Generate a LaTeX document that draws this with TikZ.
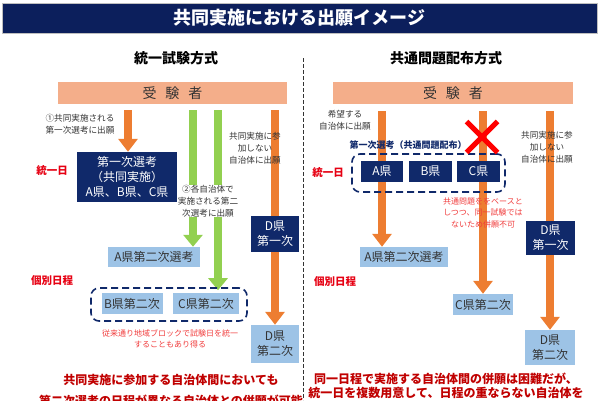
\documentclass[tikz,border=0pt]{standalone}
\usepackage{fontspec}
\setmainfont{Noto Sans CJK JP}
\usetikzlibrary{positioning, arrows.meta, shapes.misc, backgrounds}
\definecolor{jtitle}{HTML}{0C1F5C}
\definecolor{jnavy}{HTML}{10296A}
\definecolor{jsalmon}{HTML}{F4AE8A}
\definecolor{jorange}{HTML}{ED7D31}
\definecolor{jgreen}{HTML}{92D050}
\definecolor{jsky}{HTML}{9DC3E6}
\definecolor{jink}{HTML}{333333}
\definecolor{jred}{HTML}{E60012}
\definecolor{jnote}{HTML}{F03C3C}
\definecolor{jdeep}{HTML}{C00000}

\begin{document}
\begin{tikzpicture}[x=1pt, y=-1pt,
          nb/.style={fill=jnavy, text=white, inner sep=0pt, align=center, font=\fontsize{12}{15}\selectfont},
          lb/.style={fill=jsky, text=jink, inner sep=0pt, align=center, font=\fontsize{12}{15}\selectfont},
          bar/.style={fill=jsalmon, text=jink, inner sep=0pt, minimum height=22pt, font=\fontsize{14}{16}\selectfont},
          lbl/.style={text=jink, inner sep=0pt, align=center, font=\fontsize{8.6}{11.8}\selectfont},
          note/.style={text=jnote, inner sep=0pt, align=center, font=\fontsize{8}{11.5}\selectfont},
          day/.style={text=jred, inner sep=0pt, font=\bfseries\fontsize{10.5}{12}\selectfont},
          grp/.style={draw=jnavy, line width=1.6pt, dash pattern=on 7pt off 4pt, rounded corners=8pt, inner sep=0pt},
          oarr/.style={draw=jorange, line width=8pt, -{Triangle[length=13pt, width=19pt]}},
          garr/.style={draw=jgreen, line width=8pt, -{Triangle[length=12pt, width=19pt]}}]
        \clip (0,0) rectangle (599,400);
        % title
        \node[fill=jtitle, draw=black!25, minimum width=595pt, minimum height=30pt, inner sep=0pt, text=white,
              font=\bfseries\fontsize{18}{20}\selectfont] (title) at (299.5,18) {共同実施における出願イメージ};
        \draw[jink, dash pattern=on 4pt off 2pt] (303,58) coordinate (dtop) -- (303,400) coordinate (dbot);
        \node[font=\bfseries\fontsize{14}{16}\selectfont, text=black] (lhead) at (176,58) {統一試験方式};
        \node[font=\bfseries\fontsize{14}{16}\selectfont, text=black] (rhead) at (446,58) {共通問題配布方式};
        \node[bar, minimum width=229pt] (lcand) at (172.5,93) {受\hspace{9pt}験\hspace{9pt}者};
        \node[bar, minimum width=240pt] (rcand) at (453,93) {受\hspace{9pt}験\hspace{9pt}者};

        % left: unified exam
        \node[nb, minimum width=100pt, minimum height=50pt] (lfirst) at (127,177) {第一次選考\\（共同実施）\\A県、B県、C県};
        \node[lb, minimum width=92pt, minimum height=20pt] (la2) at (154,257) {A県第二次選考};
        \node[grp, minimum width=156pt, minimum height=33pt] (lgrp) at (169,304.5) {};
        \node[lb, minimum width=61pt, minimum height=21pt] (lb2) at (132,303.5) {B県第二次};
        \node[lb, minimum width=66pt, minimum height=21pt] (lc2) at (206,303.5) {C県第二次};
        \node[nb, minimum width=48pt, minimum height=36pt] (ld1) at (275,234) {D県\\第一次};
        \node[lb, minimum width=48pt, minimum height=38pt] (ld2) at (275,344) {D県\\第二次};
        \node[day] (lday1) at (52,171) {統一日};
        \node[day] (lday2) at (52,281) {個別日程};
        \node[lbl] (lt1) at (80,124) {①共同実施される\\第一次選考に出願};
        \node[lbl, fill=white] (lt2) at (208,201) {②各自治体で\\実施される第二\\次選考に出願};
        \node[lbl] (lt3) at (255,148.5) {共同実施に参\\加しない\\自治体に出願};
        \node[note] (lt4) at (170,339) {従来通り地域ブロックで試験日を統一\\することもあり得る};
        \coordinate (ls1) at (128,110);
        \coordinate (lg1) at (193,110);
        \coordinate (lg2) at (218,110);
        \coordinate (ls2) at (275,110);
        \begin{scope}[on background layer]
          \draw[oarr] (ls1) -- (ls1 |- lfirst.north);
          \draw[garr] (lg1) -- (lg1 |- la2.north);
          \draw[garr, shorten >=-3pt] (lg2) -- (lg2 |- lgrp.north);
          \draw[oarr] (ls2) -- (ld2.north);
        \end{scope}

        % right: shared questions
        \node[font=\bfseries\fontsize{9}{11}\selectfont, text=jnavy, inner sep=0pt] (rtag) at (408,145) {第一次選考（共通問題配布）};
        \node[grp, minimum width=153pt, minimum height=38pt] (rgrp) at (428.5,173) {};
        \node[nb, minimum width=42pt, minimum height=21pt] (ra) at (382,171.5) {A県};
        \node[nb, minimum width=43pt, minimum height=21pt] (rb) at (430.5,171.5) {B県};
        \node[nb, minimum width=43pt, minimum height=21pt] (rc) at (478.5,171.5) {C県};
        \node[lb, minimum width=88pt, minimum height=20pt] (ra2) at (404,257) {A県第二次選考};
        \node[lb, minimum width=60pt, minimum height=21pt] (rc2) at (483,304.5) {C県第二次};
        \node[nb, minimum width=49pt, minimum height=34pt] (rd1) at (550.5,238) {D県\\第一次};
        \node[lb, minimum width=50pt, minimum height=35pt] (rd2) at (550,347.5) {D県\\第二次};
        \node[day] (rday1) at (328,173) {統一日};
        \node[day] (rday2) at (335,282) {個別日程};
        \node[lbl] (rt1) at (345,120.5) {希望する\\自治体に出願};
        \node[lbl] (rt3) at (547,147) {共同実施に参\\加しない\\自治体に出願};
        \node[note] (rt4) at (483,213) {共通問題ををベースと\\しつつ、同一試験では\\ないため併願不可};
        \node[cross out, draw=red, line width=5pt, minimum size=26pt, inner sep=0pt] (ng) at (482,137) {};
        \coordinate (rs1) at (382,111);
        \coordinate (rs2) at (483,111);
        \coordinate (rs3) at (550,111);
        \begin{scope}[on background layer]
          \draw[oarr] (rs1) -- (rs1 |- ra2.north);
          \draw[oarr] (rs2) -- (rc2.north);
          \draw[oarr] (rs3) -- (rd2.north);
        \end{scope}

        % conclusions
        \node[text=jdeep, align=center, inner sep=0pt, font=\bfseries\fontsize{12}{21}\selectfont] (lsum) at (171,390.5)
          {共同実施に参加する自治体間においても\\第二次選考の日程が異なる自治体との併願が可能};
        \node[text=jdeep, align=center, inner sep=0pt, font=\bfseries\fontsize{12}{14}\selectfont] (rsum) at (446,385.5)
          {同一日程で実施する自治体間の併願は困難だが、\\統一日を複数用意して、日程の重ならない自治体を};
      \end{tikzpicture}
\end{document}
